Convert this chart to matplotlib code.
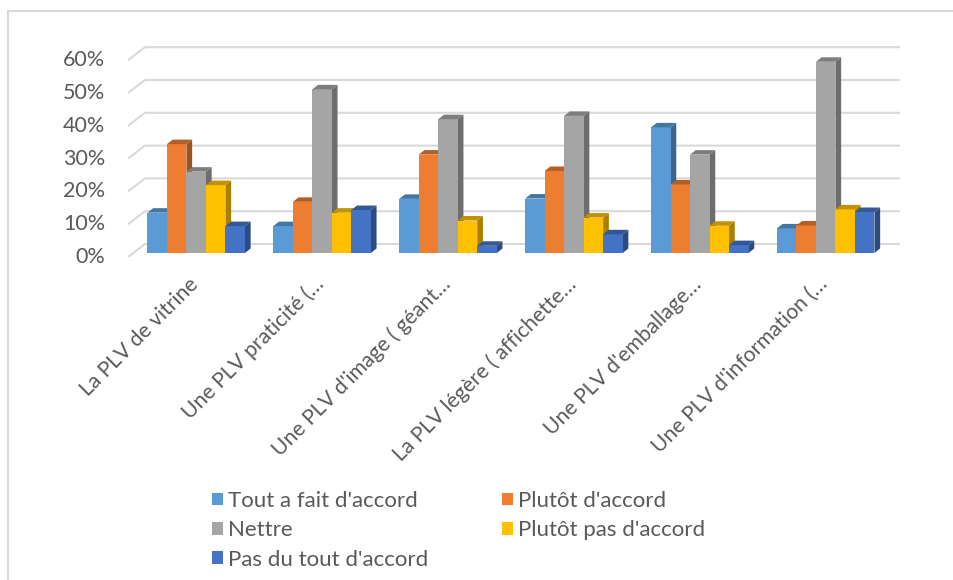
import matplotlib
matplotlib.use("Agg")
import matplotlib.pyplot as plt
from matplotlib.patches import Polygon, Patch, Rectangle
from matplotlib.colors import to_rgb
import numpy as np

# ---- data -------------------------------------------------------------
categories = [
    "La PLV de vitrine",
    "Une PLV praticité (…",
    "Une PLV d'image ( géant…",
    "La PLV légère ( affichette…",
    "Une PLV d'emballage…",
    "Une PLV d'information (…",
]
series_names = [
    "Tout a fait d'accord",
    "Plutôt d'accord",
    "Nettre",
    "Plutôt pas d'accord",
    "Pas du tout d'accord",
]
tout_a_fait = [12.3, 8.2, 16.5, 16.6, 38.3, 7.5]
plutot_accord = [33.2, 15.6, 30.0, 25.0, 20.9, 8.4]
nettre = [24.8, 49.9, 40.8, 41.8, 30.0, 58.3]
plutot_pas = [20.7, 12.3, 9.9, 10.8, 8.3, 13.3]
pas_du_tout = [8.2, 13.1, 2.2, 5.7, 2.4, 12.5]
y_ticks = [0, 10, 20, 30, 40, 50, 60]
y_tick_labels = ["0%", "10%", "20%", "30%", "40%", "50%", "60%"]

series_values = [tout_a_fait, plutot_accord, nettre, plutot_pas, pas_du_tout]
colors = ["#5B9BD5", "#ED7D31", "#A5A5A5", "#FFC000", "#4472C4"]

# ---- layout -----------------------------------------------------------
W, H = 954, 580
FONT = ["Lato", "DejaVu Sans"]
TEXT_COLOR = "#595959"
GRID_COLOR = "#D9D9D9"

plt.rcParams["font.family"] = FONT

fig = plt.figure(figsize=(W / 100, H / 100), dpi=100)
fig.patch.set_facecolor("white")

# axes placed in pixel terms; data -> pixel is linear
ax_left, ax_right, ax_top, ax_bottom = 128, 900, 30, 262
ax = fig.add_axes([ax_left / W, 1 - ax_bottom / H,
                   (ax_right - ax_left) / W, (ax_bottom - ax_top) / H])
first_px, group_px = 196.2, 125.9      # centre of first group, group pitch
base_px, px_per_pct = 253.0, 3.28      # bar front baseline, pixels per 1 %
ax.set_xlim((ax_left - first_px) / group_px, (ax_right - first_px) / group_px)
ax.set_ylim((base_px - ax_bottom) / px_per_pct, (base_px - ax_top) / px_per_pct)
ax.axis("off")

ux = 1.0 / group_px       # data units per pixel along x
uy = 1.0 / px_per_pct     # data units per pixel along y


def shade(c, f):
    return tuple(v * f for v in to_rgb(c))


# back wall gridlines with the slanted floor edge on the left
wall_dx, wall_dy = 11.8, 9.0      # back wall behind bar front plane (px)
floor_dx, floor_dy = -5.2, -4.0   # floor front edge ahead of bar front (px)
x_wall_start = (145 - first_px) / group_px
x_wall_end = (ax_right - first_px) / group_px
for t in y_ticks:
    yb = t + wall_dy * uy
    yf = t + floor_dy * uy
    ax.plot([x_wall_start + (floor_dx - wall_dx) * ux, x_wall_start, x_wall_end],
            [yf, yb, yb], color=GRID_COLOR, lw=1.5, zorder=1,
            solid_capstyle="butt", clip_on=False)

# y tick labels at the floor front edge
for t, lab in zip(y_ticks, y_tick_labels):
    ax.text((105 - first_px) / group_px, t + floor_dy * uy, lab,
            ha="right", va="center", fontsize=15.5, color=TEXT_COLOR,
            clip_on=False)

# 3-D style clustered columns
n_series = len(series_values)
bar_w = 19.5 / group_px
depth_dx, depth_dy = 5.7 * ux, 4.5 * uy
x = np.arange(len(categories))
z = 2
for gi in range(len(categories)):
    for si in range(n_series):
        v = series_values[si][gi]
        x0 = x[gi] + (si - n_series / 2) * bar_w
        x1 = x0 + bar_w
        col = colors[si]
        side = Polygon([(x1, 0), (x1 + depth_dx, depth_dy),
                        (x1 + depth_dx, v + depth_dy), (x1, v)],
                       closed=True, facecolor=shade(col, 0.66),
                       edgecolor="none", zorder=z)
        top = Polygon([(x0, v), (x1, v), (x1 + depth_dx, v + depth_dy),
                       (x0 + depth_dx, v + depth_dy)],
                      closed=True, facecolor=shade(col, 0.76),
                      edgecolor="none", zorder=z + 0.6)
        ax.add_patch(side)
        ax.bar(x0, v, width=bar_w, align="edge", color=col,
               edgecolor="none", zorder=z + 0.5)
        ax.add_patch(top)
        z += 1

# rotated category labels
for xi, lab in zip(x, categories):
    ax.text(xi - 1 * ux, -28 * uy, lab, rotation=45, rotation_mode="anchor",
            ha="right", va="center", fontsize=15.2, color=TEXT_COLOR,
            clip_on=False)

# legend, filled row by row as two columns
handles = [Patch(facecolor=c, edgecolor="none") for c in colors]
order = [0, 2, 4, 1, 3]
fig.legend([handles[i] for i in order], [series_names[i] for i in order],
           ncol=2, loc="upper left", bbox_to_anchor=(211.7 / W, 1 - 491 / H),
           frameon=False, fontsize=16, labelcolor=TEXT_COLOR,
           handlelength=0.5, handleheight=0.5, handletextpad=0.24,
           borderpad=0, borderaxespad=0, labelspacing=0.42,
           columnspacing=3.3)

# outer frame
fig.patches.append(Rectangle((8 / W, -0.1), 1.2, 1 - 11 / H + 0.1,
                             transform=fig.transFigure, fill=False,
                             edgecolor=GRID_COLOR, lw=1.5))

fig.savefig("out.png", dpi=100)
